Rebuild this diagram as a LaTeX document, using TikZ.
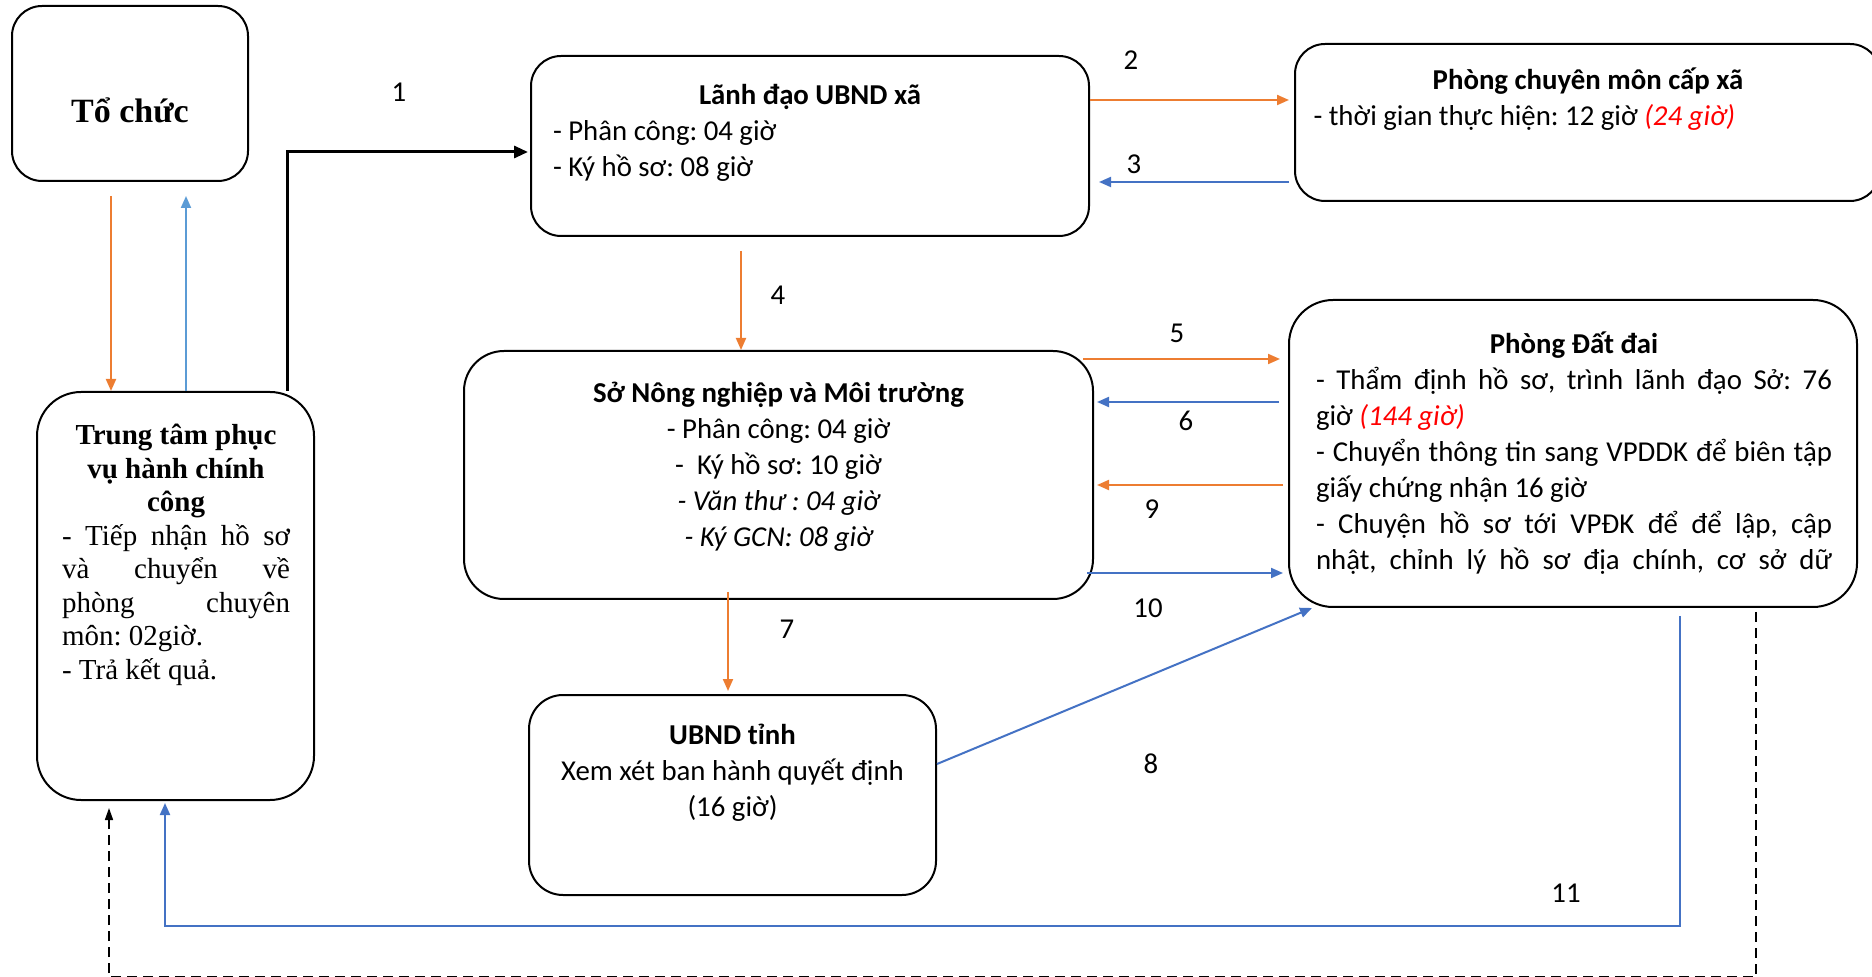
\documentclass[tikz,border=0pt]{standalone}
\usepackage{fontspec}
\setmainfont{Carlito}
\newfontfamily\timesfont{Liberation Serif}
\usetikzlibrary{arrows.meta,positioning}
\setlength{\parindent}{0pt}
\frenchspacing

\definecolor{orgline}{HTML}{ED7D31}
\definecolor{blueline}{HTML}{4472C4}
\definecolor{skyline}{HTML}{5B9BD5}

% justified line of a given width
\newcommand{\jline}[2]{\makebox[#1][s]{\spaceskip=0pt\xspaceskip=0pt\relax #2}}

\tikzset{
  box/.style={draw, line width=1pt, rounded corners=15pt, inner sep=0pt},
  txt/.style={inner sep=0pt, font=\fontsize{14.4}{18}\selectfont},
  serif/.style={inner sep=0pt, font=\timesfont\fontsize{14.5}{16.75}\selectfont},
  num/.style={inner sep=0pt, font=\fontsize{14.4}{18}\selectfont},
  orgarrow/.style={draw=orgline, line width=1pt, -{Triangle[length=6pt,width=5pt]}},
  bluearrow/.style={draw=blueline, line width=1pt, -{Triangle[length=6pt,width=5pt]}},
  skyarrow/.style={draw=skyline, line width=1pt, -{Triangle[length=6pt,width=5pt]}},
  blackarrow/.style={draw=black, line width=1.5pt, -{Triangle[length=7pt,width=6pt]}},
  dasharrow/.style={draw=black, line width=0.8pt, dash pattern=on 5pt off 3pt, -{Triangle[length=6pt,width=4pt]}},
}

\begin{document}
\begin{tikzpicture}[x=0.5pt,y=-0.5pt]
  \useasboundingbox (0,0) rectangle (1872,977);
  \clip (0,0) rectangle (1872,977);

  % boxes
  \node (toc)  at (130,93.5)     [box, minimum width=118pt, minimum height=87.5pt] {};
  \node (tt)   at (175.5,596)    [box, rounded corners=22pt, minimum width=138.5pt, minimum height=204pt] {};
  \node (lanh) at (810,146)      [box, minimum width=279pt, minimum height=90pt] {};
  \node (pcm)  at (1587.5,122.5) [box, minimum width=292.5pt, minimum height=78.5pt] {};
  \node (sonn) at (778.5,475)    [box, rounded corners=20pt, minimum width=314.5pt, minimum height=124pt] {};
  \node (pdd)  at (1573,453.5)   [box, rounded corners=22pt, minimum width=284pt, minimum height=153.5pt] {};
  \node (ubt)  at (732.5,795)    [box, rounded corners=17pt, minimum width=203.5pt, minimum height=100pt] {};

  % texts
  \node (toc-t) at (130,110) [inner sep=0pt, font=\timesfont\bfseries\fontsize{17}{20}\selectfont] {Tổ chức};

  \node (tt-t) at (176,424) [serif, anchor=north, text width=114pt, align=justify]
    {{\centering\bfseries Trung tâm phục\\ vụ hành chính\\ công\par}
     \jline{114pt}{- Tiếp nhận hồ sơ}\\
     \jline{114pt}{và chuyển về}\\
     \jline{114pt}{phòng chuyên}\\
     môn: 02giờ.\\
     - Trả kết quả.};

  \node (lanh-t) at (810,84) [txt, anchor=north, text width=257pt, align=justify]
    {{\centering\bfseries Lãnh đạo UBND xã\par}
     - Phân công: 04 giờ\\
     - Ký hồ sơ: 08 giờ};

  \node (pcm-t) at (1588,67) [txt, anchor=north, text width=274.5pt, align=justify]
    {{\centering\bfseries Phòng chuyên môn cấp xã\par}
     - thời gian thực hiện: 12 giờ \textcolor{red}{\itshape (24 giờ)}};

  \node (sonn-t) at (778.5,382) [txt, anchor=north, align=center]
    {\bfseries Sở Nông nghiệp và Môi trường\\
     - Phân công: 04 giờ\\
     -\ \ Ký hồ sơ: 10 giờ\\
     \itshape - Văn thư : 04 giờ\\
     \itshape - Ký GCN: 08 giờ};

  \node (pdd-t) at (1574,331) [txt, anchor=north, text width=258pt, align=justify]
    {{\centering\bfseries Phòng Đất đai\par}
     \jline{258pt}{- Thẩm định hồ sơ, trình lãnh đạo Sở: 76}\\
     giờ \textcolor{red}{\itshape (144 giờ)}\\
     \jline{258pt}{- Chuyển thông tin sang VPDDK để biên tập}\\
     giấy chứng nhận 16 giờ\\
     \jline{258pt}{- Chuyện hồ sơ tới VPĐK để để lập, cập}\\
     \jline{258pt}{nhật, chỉnh lý hồ sơ địa chính, cơ sở dữ}};

  \node (ubt-t) at (732.5,724) [txt, anchor=north, align=center]
    {\bfseries UBND tỉnh\\
     Xem xét ban hành quyết định\\
     (16 giờ)};

  % step numbers
  \node (n1)  at (399,92)   [num] {1};
  \node (n2)  at (1131,60)  [num] {2};
  \node (n3)  at (1134,164) [num] {3};
  \node (n4)  at (778,295)  [num] {4};
  \node (n5)  at (1177,333) [num] {5};
  \node (n6)  at (1186,421) [num] {6};
  \node (n7)  at (787,629)  [num] {7};
  \node (n8)  at (1151,764) [num] {8};
  \node (n9)  at (1152,509) [num] {9};
  \node (n10) at (1148,608) [num] {10};
  \node (n11) at (1566,893) [num] {11};

  % connectors
  \draw[orgarrow] ([xshift=-9.5pt,yshift=-7pt]toc.south) -- ([xshift=-32.25pt]tt.north);
  \draw[skyarrow] ([xshift=5.25pt]tt.north) -- ([xshift=28pt,yshift=-7pt]toc.south);
  \draw[blackarrow, shorten >=1pt] ([xshift=55.75pt]tt.north) |- ([yshift=-3pt]lanh.west);
  \draw[orgarrow, shorten >=2.5pt] ([yshift=23pt]lanh.east) -- ([yshift=23pt]lanh.east -| pcm.west);
  \draw[bluearrow, shorten >=4.5pt] ([xshift=-2.5pt,yshift=-29.75pt]pcm.west) -- ([yshift=-29.75pt]pcm.west -| lanh.east);
  \draw[orgarrow] ([xshift=-34.5pt,yshift=-7pt]lanh.south) -- ([xshift=-34.5pt]lanh.south |- sonn.north);
  \draw[orgarrow, shorten >=4pt] ([xshift=-5.5pt,yshift=58pt]sonn.east) -- ([yshift=58pt]sonn.east -| pdd.west);
  \draw[bluearrow, shorten >=1.5pt] ([xshift=-4.5pt,yshift=25.75pt]pdd.west) -- ([yshift=25.75pt]pdd.west -| sonn.east);
  \draw[orgarrow, shorten >=1.5pt] ([xshift=-2.5pt,yshift=-15.75pt]pdd.west) -- ([yshift=-15.75pt]pdd.west -| sonn.east);
  \draw[bluearrow, shorten >=2.5pt] ([xshift=-3.5pt,yshift=-49pt]sonn.east) -- ([yshift=-49pt]sonn.east -| pdd.west);
  \draw[orgarrow, shorten >=1.5pt] ([xshift=-25.25pt,yshift=4pt]sonn.south) -- ([xshift=-25.25pt]sonn.south |- ubt.north);
  \draw[bluearrow] ([yshift=15.5pt]ubt.east) -- ([xshift=12pt]pdd.south west);
  \draw[bluearrow, shorten >=1pt] ([xshift=53.5pt,yshift=-4pt]pdd.south) -- ++(0,310) -| ([xshift=-5.25pt]tt.south);
  \draw[dasharrow] ([xshift=91.5pt,yshift=-2pt]pdd.south) -- ++(0,365) -| ([xshift=-33.25pt,yshift=-3.5pt]tt.south);
\end{tikzpicture}
\end{document}
